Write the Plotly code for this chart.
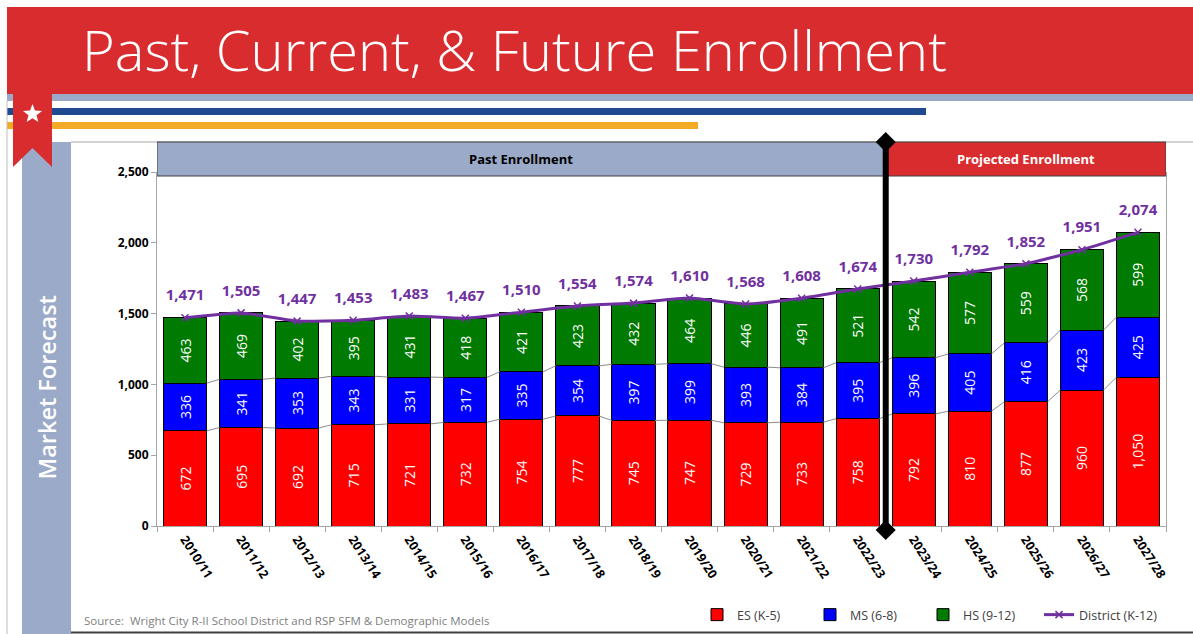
import plotly.graph_objects as go
import math

years = ["2010/11", "2011/12", "2012/13", "2013/14", "2014/15", "2015/16", "2016/17",
         "2017/18", "2018/19", "2019/20", "2020/21", "2021/22", "2022/23", "2023/24",
         "2024/25", "2025/26", "2026/27", "2027/28"]
es_k5 = [672, 695, 692, 715, 721, 732, 754, 777, 745, 747, 729, 733, 758, 792, 810, 877, 960, 1050]
ms_68 = [336, 341, 353, 343, 331, 317, 335, 354, 397, 399, 393, 384, 395, 396, 405, 416, 423, 425]
hs_912 = [463, 469, 402, 395, 431, 418, 421, 423, 432, 464, 446, 491, 521, 542, 577, 559, 568, 599]
district = [1471, 1505, 1447, 1453, 1483, 1467, 1510, 1554, 1574, 1610, 1568, 1608, 1674, 1730,
            1792, 1852, 1951, 2074]
y_ticks = [0, 500, 1000, 1500, 2000, 2500]
n_past = 13  # first projected year index

FONT = "Open Sans"
RED = "#D82C2E"
GREYBLUE = "#9AAAC8"
PURPLE = "#7030A0"

W_FIG, H_FIG = 1193, 634
L, R, T, B = 157, 1166, 172, 526


def px(x):
    return (x - L) / (R - L)


def py(y):
    return (B - y) / (B - T)


idx = list(range(len(years)))
bw = 0.77

fig = go.Figure()


def fmt(v):
    return f"{v:,}"


for name, vals, col in [("ES (K-5)", es_k5, "#FF0000"),
                        ("MS (6-8)", ms_68, "#0000FF"),
                        ("HS (9-12)", hs_912, "#007A00")]:
    fig.add_trace(go.Bar(
        x=idx, y=vals, name=name, width=bw, legend="legend",
        marker=dict(color=col, line=dict(color="#000000", width=1)),
        text=[fmt(v) for v in vals], textposition="inside", insidetextanchor="middle",
        textangle=-90, constraintext="none",
        textfont=dict(color="white", size=14, family=FONT),
        hoverinfo="skip",
    ))

# series connector lines between stacked segments
cx, cy = [], []
for level in [es_k5, [a + b for a, b in zip(es_k5, ms_68)]]:
    for i in range(len(years) - 1):
        cx += [i + bw / 2, i + 1 - bw / 2, None]
        cy += [level[i], level[i + 1], None]
fig.add_trace(go.Scatter(x=cx, y=cy, mode="lines", line=dict(color="#8C8C8C", width=1),
                         showlegend=False, hoverinfo="skip"))

fig.add_trace(go.Scatter(
    x=idx, y=district, name="District (K-12)", mode="lines+markers", legend="legend2",
    line=dict(color=PURPLE, width=3, shape="spline", smoothing=0.5),
    marker=dict(symbol="x-thin", size=7, line=dict(color=PURPLE, width=1.5), color=PURPLE),
    cliponaxis=False, hoverinfo="skip",
))
# total labels (transparent markers to keep the labels clear of the line)
fig.add_trace(go.Scatter(
    x=idx, y=district, mode="markers+text", showlegend=False,
    marker=dict(size=20, color="rgba(0,0,0,0)"),
    text=[fmt(v) for v in district], textposition="top center",
    textfont=dict(color=PURPLE, size=15, family=FONT, weight="bold"),
    cliponaxis=False, hoverinfo="skip",
))

shapes = []


def rect(x0, y0, x1, y1, fill, line=None, lw=0, xref="paper"):
    shapes.append(dict(type="rect", xref=xref, yref="paper",
                       x0=x0 if xref == "x" else px(x0), x1=x1 if xref == "x" else px(x1),
                       y0=py(y0), y1=py(y1), fillcolor=fill,
                       line=dict(color=line or fill, width=lw), layer="above" if xref == "x" else "below"))


# banner & decorations
rect(7, 7, 1193, 94, RED)
rect(7, 94, 1193, 101, GREYBLUE)
rect(7, 108, 926, 115, "#1F4A8F")
rect(7, 122, 698, 129, "#F2AA27")
rect(22, 142, 71, 634, GREYBLUE)
shapes.append(dict(type="path", xref="paper", yref="paper",
                   path=f"M{px(13)},{py(94)} L{px(52)},{py(94)} L{px(52)},{py(167)} "
                        f"L{px(32.5)},{py(148)} L{px(13)},{py(167)} Z",
                   fillcolor=RED, line=dict(width=0)))
# star
pts = []
for k in range(10):
    r = 10 if k % 2 == 0 else 4.2
    a = -math.pi / 2 + k * math.pi / 5
    pts.append((32.5 + r * math.cos(a), 114 + r * math.sin(a)))
shapes.append(dict(type="path", xref="paper", yref="paper",
                   path="M" + " L".join(f"{px(x)},{py(y)}" for x, y in pts) + " Z",
                   fillcolor="white", line=dict(width=0)))
# frame lines
shapes.append(dict(type="line", xref="paper", yref="paper", x0=px(71), x1=px(1193), y0=py(142), y1=py(142),
                   line=dict(color="#A6A6A6", width=1)))
shapes.append(dict(type="line", xref="paper", yref="paper", x0=px(7), x1=px(7), y0=py(101), y1=py(634),
                   line=dict(color="#BFBFBF", width=1)))
shapes.append(dict(type="line", xref="paper", yref="paper", x0=px(71), x1=px(1193), y0=py(632.5), y1=py(632.5),
                   line=dict(color="#404040", width=2)))
# section headers
rect(-0.5, 142, n_past - 0.5, 176, GREYBLUE, "#404040", 1, xref="x")
rect(n_past - 0.5, 142, len(years) - 0.5, 176, RED, "#404040", 1, xref="x")
# divider line with diamonds
shapes.append(dict(type="line", xref="x", yref="paper", x0=n_past - 0.5, x1=n_past - 0.5,
                   y0=py(142), y1=py(530), line=dict(color="black", width=6), layer="above"))
dw = 10 / 56
for yy in (142, 530):
    shapes.append(dict(type="path", xref="x", yref="paper", layer="above",
                       path=f"M{n_past - 0.5 - dw},{py(yy)} L{n_past - 0.5},{py(yy - 10)} "
                            f"L{n_past - 0.5 + dw},{py(yy)} L{n_past - 0.5},{py(yy + 10)} Z",
                       fillcolor="black", line=dict(width=0)))

annotations = [
    dict(text="Past, Current, &amp; Future Enrollment", x=px(80), y=py(49), xref="paper", yref="paper",
         xanchor="left", yanchor="middle", showarrow=False,
         font=dict(family=FONT, size=56, color="white", weight=300)),
    dict(text="Market Forecast", x=px(46.5), y=py(388), xref="paper", yref="paper",
         textangle=-90, showarrow=False, xanchor="center", yanchor="middle",
         font=dict(family=FONT, size=23.5, color="white", weight=600)),
    dict(text="Past Enrollment", x=(n_past - 1) / 2, y=py(159), xref="x", yref="paper",
         xanchor="center", yanchor="middle",
         showarrow=False, font=dict(family=FONT, size=13, color="black", weight="bold")),
    dict(text="Projected Enrollment", x=(n_past - 0.5 + len(years) - 0.5) / 2, y=py(159), xref="x",
         yref="paper", xanchor="center", yanchor="middle",
         showarrow=False, font=dict(family=FONT, size=13, color="white", weight="bold")),
    dict(text="Source:  Wright City R-II School District and RSP SFM &amp; Demographic Models",
         x=px(82), y=py(620), xref="paper", yref="paper", xanchor="left", yanchor="middle",
         showarrow=False, font=dict(family=FONT, size=11.5, color="#808080")),
]

legend_font = dict(family=FONT, size=12.5, color="#404040")
fig.update_layout(
    width=W_FIG, height=H_FIG,
    margin=dict(l=L, r=W_FIG - R, t=T, b=H_FIG - B, pad=0, autoexpand=False),
    paper_bgcolor="white", plot_bgcolor="white",
    barmode="stack", bargap=0.23,
    shapes=shapes, annotations=annotations,
    font=dict(family=FONT, color="black"),
    legend=dict(orientation="h", x=px(697), y=py(600), xanchor="left", yanchor="top",
                font=legend_font, entrywidth=68, entrywidthmode="pixels", traceorder="normal",
                bgcolor="rgba(0,0,0,0)"),
    legend2=dict(orientation="h", x=px(1039), y=py(600), xanchor="left", yanchor="top",
                 font=legend_font, bgcolor="rgba(0,0,0,0)"),
    xaxis=dict(range=[-0.5, len(years) - 0.5], tickmode="array", tickvals=idx, ticktext=years,
               tickangle=57, ticks="", showline=True, linecolor="#A6A6A6", linewidth=1,
               showgrid=False, zeroline=False, automargin=False,
               tickfont=dict(family=FONT, size=12.5, color="black", weight="bold"),
               minor=dict(ticks="outside", ticklen=5, tick0=0.5, dtick=1, tickcolor="#A6A6A6",
                          showgrid=False)),
    yaxis=dict(range=[0, 2500], tickmode="array", tickvals=y_ticks, tickformat=",",
               ticks="outside", ticklen=5, tickcolor="#A6A6A6", showline=True, mirror=True,
               linecolor="#A6A6A6", linewidth=1, showgrid=False, zeroline=False, automargin=False,
               tickfont=dict(family=FONT, size=12, color="black", weight="bold")),
)

fig.write_html("out.html", config={"displayModeBar": False})
with open("out.html", encoding="utf-8") as f:
    html = f.read()
html = html.replace("<head>", "<head><style>html,body{margin:0;padding:0;overflow:hidden;}</style>", 1)
with open("out.html", "w", encoding="utf-8") as f:
    f.write(html)
